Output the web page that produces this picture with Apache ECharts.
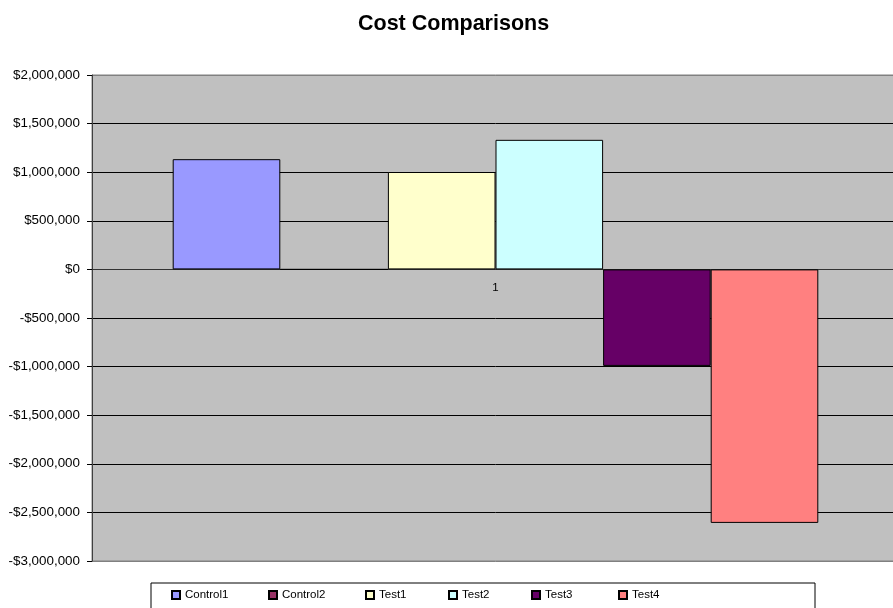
<!DOCTYPE html>
<html>
<head>
<meta charset="utf-8">
<script src="https://cdn.jsdelivr.net/npm/echarts@6/dist/echarts.min.js"></script>
<style>html,body{margin:0;padding:0;background:#fff;overflow:hidden}#c{width:899px;height:608px}</style>
</head>
<body>
<div id="c"></div>
<script>
const categories = ['1'];
const seriesNames = ['Control1', 'Control2', 'Test1', 'Test2', 'Test3', 'Test4'];
const seriesValues = [1134000, 0, 1002000, 1333000, -993000, -2608000];
const seriesColors = ['#9999FF', '#993366', '#FFFFCC', '#CCFFFF', '#660066', '#FF8080'];
const yTicks = { min: -3000000, max: 2000000, interval: 500000 };
const legendLeft = [171, 268, 365, 448, 531, 618];

function money(v) {
  const s = Math.abs(v).toString().replace(/\B(?=(\d{3})+(?!\d))/g, ',');
  return (v < 0 ? '-$' : '$') + s;
}

const font = 'Arial, "Liberation Sans", sans-serif';
const splitColors = [];
for (let i = 0; i <= (yTicks.max - yTicks.min) / yTicks.interval; i++) splitColors.push('#000');
splitColors[0] = '#808080';
splitColors[splitColors.length - 1] = '#808080';

const gridTop = 75, gridBottom = 47, chartH = 608;
const plotH = chartH - gridTop - gridBottom;
// distance from bottom of plot to the zero line, derived from the axis range
const zeroOffset = plotH * (0 - yTicks.min) / (yTicks.max - yTicks.min);

const chart = echarts.init(document.getElementById('c'), null, { renderer: 'canvas' });
chart.setOption({
  animation: false,
  backgroundColor: '#fff',
  title: {
    text: 'Cost Comparisons',
    left: 358, top: 13,
    textStyle: { fontFamily: font, fontSize: 21.5, fontWeight: 'bold', color: '#000' },
    padding: 0
  },
  graphic: [{
    type: 'rect', z: 0, silent: true,
    shape: { x: 151, y: 583, width: 664, height: 40 },
    style: { fill: '#fff', stroke: '#000', lineWidth: 1 }
  }],
  legend: seriesNames.map((n, i) => ({
    data: [n], left: legendLeft[i], top: 589, z: 5, padding: 0,
    icon: 'rect', itemWidth: 8, itemHeight: 8, itemGap: 0,
    textStyle: { fontFamily: font, fontSize: 11.5, color: '#000' }
  })),
  grid: { left: 92, top: gridTop, right: 0, bottom: gridBottom, show: true, backgroundColor: '#C0C0C0', borderColor: '#808080', borderWidth: 1 },
  xAxis: {
    type: 'category', data: categories,
    offset: -zeroOffset,
    axisLine: { onZero: false, lineStyle: { color: '#333', width: 1 } },
    axisTick: { show: false },
    axisLabel: { margin: 12, fontFamily: font, fontSize: 11.5, color: '#000' },
    splitLine: { show: false }
  },
  yAxis: {
    type: 'value', min: yTicks.min, max: yTicks.max, interval: yTicks.interval,
    axisLine: { show: true, lineStyle: { color: '#404040', width: 1 } },
    axisTick: { show: true, length: 5, lineStyle: { color: '#000' } },
    axisLabel: { formatter: money, margin: 12, fontFamily: font, fontSize: 13.4, color: '#000' },
    splitLine: { show: true, lineStyle: { color: splitColors, width: 1 } }
  },
  series: seriesNames.map((n, i) => ({
    name: n, type: 'bar', data: [seriesValues[i]],
    barGap: '0%', barCategoryGap: '20%',
    itemStyle: { color: seriesColors[i], borderColor: '#000', borderWidth: 1 }
  }))
});
</script>
</body>
</html>
